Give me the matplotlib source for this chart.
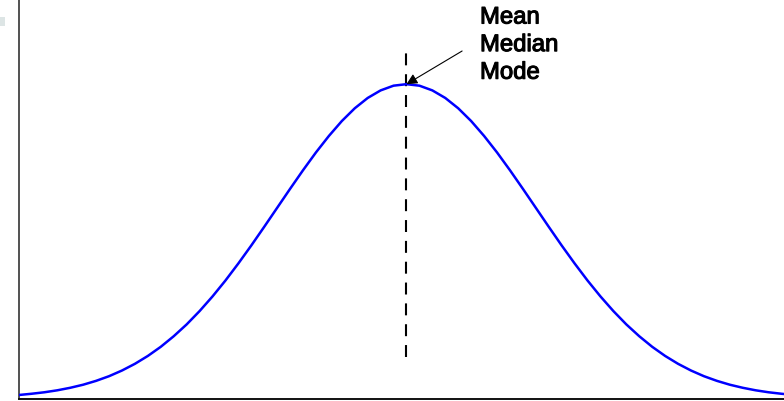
import matplotlib
matplotlib.use("Agg")
import matplotlib.pyplot as plt
from matplotlib.patches import Rectangle
import matplotlib.patheffects as pe

plt.rcParams['lines.scale_dashes'] = False

# Standard normal curve (z, density)
z_values = [-3.0, -2.9, -2.8, -2.7, -2.6, -2.5, -2.4, -2.3, -2.2, -2.1,
            -2.0, -1.9, -1.8, -1.7, -1.6, -1.5, -1.4, -1.3, -1.2, -1.1,
            -1.0, -0.9, -0.8, -0.7, -0.6, -0.5, -0.4, -0.3, -0.2, -0.1,
            0.0, 0.1, 0.2, 0.3, 0.4, 0.5, 0.6, 0.7, 0.8, 0.9,
            1.0, 1.1, 1.2, 1.3, 1.4, 1.5, 1.6, 1.7, 1.8, 1.9,
            2.0, 2.1, 2.2, 2.3, 2.4, 2.5, 2.6, 2.7, 2.8, 2.9, 3.0]
density = [0.0044, 0.0060, 0.0079, 0.0104, 0.0136, 0.0175, 0.0224, 0.0283, 0.0355, 0.0440,
           0.0540, 0.0656, 0.0790, 0.0940, 0.1109, 0.1295, 0.1497, 0.1714, 0.1942, 0.2179,
           0.2420, 0.2661, 0.2897, 0.3123, 0.3332, 0.3521, 0.3683, 0.3814, 0.3910, 0.3970,
           0.3989,
           0.3970, 0.3910, 0.3814, 0.3683, 0.3521, 0.3332, 0.3123, 0.2897, 0.2661,
           0.2420, 0.2179, 0.1942, 0.1714, 0.1497, 0.1295, 0.1109, 0.0940, 0.0790, 0.0656,
           0.0540, 0.0440, 0.0355, 0.0283, 0.0224, 0.0175, 0.0136, 0.0104, 0.0079, 0.0060, 0.0044]

center_value = 0.0
peak_value = 0.3989
center_line_span = [0.0527, 0.441]
label_text = "Mean\nMedian\nMode"

fig = plt.figure(figsize=(7.84, 4.02), dpi=100)
ax = fig.add_axes([18.5 / 784, 2.5 / 402, 1 - 18.5 / 784, 1 - 2.5 / 402])

ax.plot(z_values, density, color='#0000ff', lw=1.8, solid_joinstyle='round', zorder=3)

ax.plot([center_value, center_value], center_line_span, color='black', lw=1.5,
        dashes=[8.6, 6.4], zorder=2)

ax.annotate('', xy=(center_value, peak_value), xytext=(0.43, 0.441),
            arrowprops=dict(arrowstyle='-|>', color='black', lw=0.8,
                            mutation_scale=16, shrinkA=0, shrinkB=0),
            zorder=4)

fig.text(480 / 784, 1 - 7.5 / 402, label_text, ha='left', va='top',
         fontsize=17.2, family='Liberation Sans', linespacing=1.33, color='black',
         path_effects=[pe.withStroke(linewidth=0.8, foreground='black')])

ax.set_xlim(-3.0, 2.919)
ax.set_ylim(0, 0.507)
ax.set_xticks([])
ax.set_yticks([])
for s in ['top', 'right']:
    ax.spines[s].set_visible(False)
ax.spines['left'].set_color('#333333')
ax.spines['left'].set_linewidth(1.2)
ax.spines['bottom'].set_color('#111111')
ax.spines['bottom'].set_linewidth(1.4)

fig.add_artist(Rectangle((0, 1 - 27 / 402), 5 / 784, 9 / 402,
                         transform=fig.transFigure, color='#dde5e5', lw=0))

fig.savefig('out.png', dpi=100)
